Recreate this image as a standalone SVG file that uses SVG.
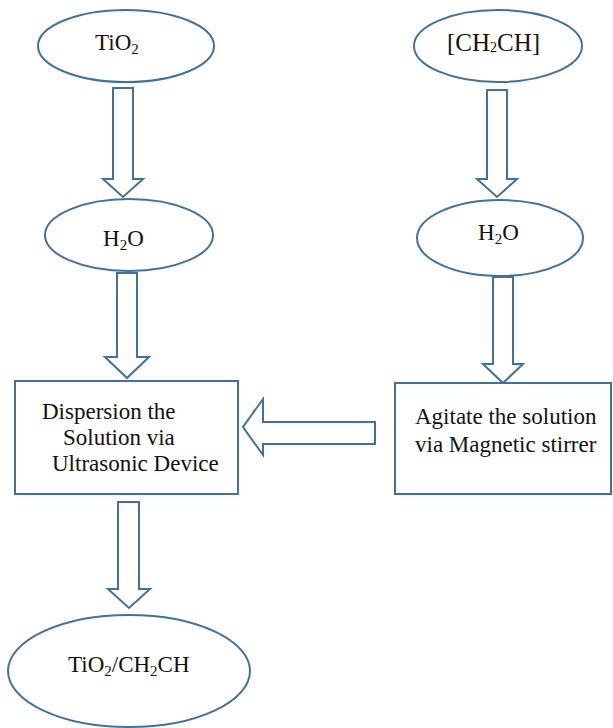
<svg xmlns="http://www.w3.org/2000/svg" width="613" height="728" viewBox="0 0 613 728">
  <style>
    .shape { fill: #ffffff; stroke: #41719c; stroke-width: 2; }
    .arrow { fill: #ffffff; stroke: #41719c; stroke-width: 2; stroke-linejoin: miter; }
    .label { font-family: "Liberation Serif", "Times New Roman", serif; font-size: 23px; fill: #111111; }
    .sub { font-size: 15px; }
  </style>
  <rect x="0" y="0" width="613" height="728" fill="#ffffff"/>

  <!-- block arrows between steps -->
  <g id="connectors">
    <path class="arrow" d="M113,88 H133 V179 H143 L123,197 L103,179 H113 Z"/>
    <path class="arrow" d="M117,273 H137 V357 H149 L127,378 L105,357 H117 Z"/>
    <path class="arrow" d="M118,502 H139 V589 H150 L129,608 L108,589 H118 Z"/>
    <path class="arrow" d="M487,90 H507 V179 H517 L497,197 L477,179 H487 Z"/>
    <path class="arrow" d="M493,277 H513 V364 H523 L503,383 L483,364 H493 Z"/>
    <path class="arrow" d="M375,422 H263 V399 L243,427 L263,455 V444 H375 Z"/>
  </g>

  <g id="tio2">
    <ellipse class="shape" cx="126" cy="46" rx="88" ry="36"/>
    <text class="label" x="95" y="50">TiO<tspan class="sub" dy="4">2</tspan></text>
  </g>

  <g id="ch2ch">
    <ellipse class="shape" cx="498" cy="46" rx="84" ry="36"/>
    <text class="label" x="447" y="51" style="font-size:25px">[CH<tspan style="font-size:14px" dy="1">2</tspan><tspan dy="-1">CH]</tspan></text>
  </g>

  <g id="water-left">
    <ellipse class="shape" cx="129" cy="235" rx="84" ry="36"/>
    <text class="label" x="103" y="246">H<tspan class="sub" dy="4">2</tspan><tspan dy="-4">O</tspan></text>
  </g>

  <g id="water-right">
    <ellipse class="shape" cx="500" cy="238" rx="83" ry="38"/>
    <text class="label" x="478" y="240">H<tspan class="sub" dy="4">2</tspan><tspan dy="-4">O</tspan></text>
  </g>

  <g id="ultrasonic">
    <rect class="shape" x="15" y="381" width="223" height="113"/>
    <text class="label" x="42" y="419">Dispersion the</text>
    <text class="label" x="63" y="445">Solution via</text>
    <text class="label" x="52" y="471">Ultrasonic Device</text>
  </g>

  <g id="stirrer">
    <rect class="shape" x="395" y="383" width="216" height="111"/>
    <text class="label" x="415" y="424">Agitate the solution</text>
    <text class="label" x="415" y="452">via Magnetic stirrer</text>
  </g>

  <g id="product">
    <ellipse class="shape" cx="129" cy="671" rx="121" ry="56"/>
    <text class="label" x="68" y="672">TiO<tspan class="sub" dy="4">2</tspan><tspan dy="-4">/CH</tspan><tspan class="sub" dy="4">2</tspan><tspan dy="-4">CH</tspan></text>
  </g>
</svg>
